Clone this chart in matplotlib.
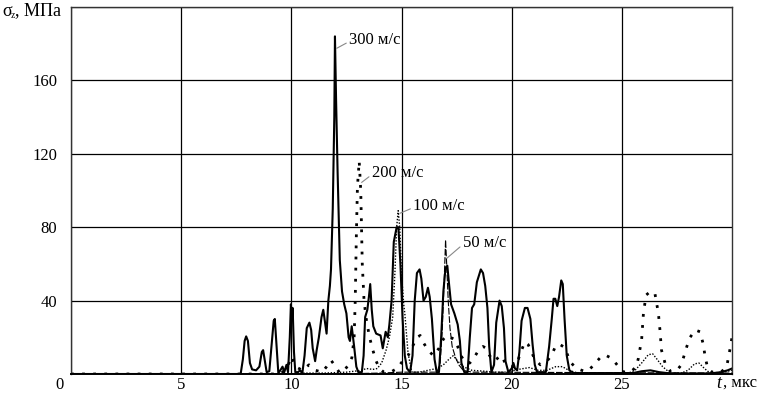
import matplotlib
matplotlib.use("Agg")
import matplotlib.pyplot as plt
from matplotlib.transforms import ScaledTranslation

# ---- data ----
t_300 = [0, 7.7, 7.8, 7.88, 7.95, 8.03, 8.12, 8.22, 8.4, 8.55, 8.66, 8.72, 8.8, 8.88, 9.0, 9.1, 9.2, 9.25,
         9.33, 9.41, 9.5, 9.6, 9.68, 9.78, 9.85, 9.93, 9.98, 10.03, 10.06, 10.12, 10.18, 10.3, 10.4, 10.5,
         10.6, 10.7, 10.82, 10.9, 10.97, 11.03, 11.08, 11.15, 11.25, 11.37, 11.45, 11.53, 11.6, 11.68, 11.75,
         11.8, 11.88, 11.95, 11.98, 12.03, 12.1, 12.2, 12.3, 12.4, 12.5, 12.6, 12.66, 12.74, 12.8, 12.85,
         12.95, 13.04, 13.2, 13.28, 13.35, 13.45, 13.52, 13.58, 13.65, 13.72, 13.85, 14.05, 14.15, 14.28,
         14.38, 14.45, 14.55, 14.65, 14.78, 14.86, 14.95, 15.05, 15.15, 15.25, 15.39, 15.5, 15.6, 15.7,
         15.82, 15.9, 16.0, 16.1, 16.2, 16.28, 16.38, 16.5, 16.6, 16.7, 16.8, 16.9, 17.0, 17.08, 17.15,
         17.25, 17.4, 17.55, 17.65, 17.72, 17.85, 18.0, 18.1, 18.2, 18.3, 18.42, 18.6, 18.7, 18.8, 18.9,
         18.98, 19.08, 19.2, 19.3, 19.45, 19.55, 19.65, 19.72, 19.85, 20.0, 20.08, 20.15, 20.25, 20.35,
         20.45, 20.6, 20.72, 20.85, 20.95, 21.05, 21.15, 21.55, 21.7, 21.82, 21.9, 21.98, 22.07, 22.15,
         22.25, 22.32, 22.4, 22.5, 22.62, 22.8, 25.5, 25.9, 26.3, 26.7, 27.2, 29.0, 29.5, 29.8, 30]
v_300 = [0, 0, 8, 18, 20.5, 18, 6, 2.5, 2, 4, 12, 13, 7, 1, 1.5, 15, 29, 30,
         15, 0.5, 2, 4, 1, 5, 1, 20, 38, 30, 36, 12, 1, 1, 2, 0.5,
         10, 25, 28, 24, 14, 10, 7, 13, 20, 31, 35, 28, 22, 40, 48,
         57, 90, 140, 184, 150, 110, 62, 45, 38, 33, 20, 18, 26, 20, 15,
         4, 1, 1, 10, 31, 35, 42, 49, 35, 26, 22, 21, 14, 23,
         20, 27, 40, 72, 80, 80, 60, 30, 10, 3, 1, 10, 40, 55,
         57, 52, 40, 42, 47, 42, 30, 8, 1, 1, 20, 45, 58, 59, 50,
         38, 33, 27, 18, 6, 1, 1, 20, 36, 38, 50, 57, 55, 48, 36,
         15, 1, 5, 28, 40, 37, 25, 7, 1, 3, 6, 3, 2, 12,
         29, 36, 36, 30, 16, 5, 1, 1, 15, 30, 41, 41, 37, 42,
         51, 49, 30, 10, 2, 0.5, 0.5, 1.5, 2, 1, 0.3, 0.3, 1, 2, 3]

t_200 = [0, 9.5, 9.8, 10.0, 10.2, 10.5, 10.8, 11.1, 11.4, 11.6, 11.8, 11.95, 12.2, 12.4, 12.6, 12.75, 12.85,
         12.9, 12.95, 13.0, 13.08, 13.15, 13.22, 13.3, 13.4, 13.55, 13.7, 13.85, 14.0, 14.2, 14.5, 14.8,
         15.05, 15.3, 15.5, 15.7, 15.85, 16.0, 16.2, 16.45, 16.7, 16.9, 17.05, 17.2, 17.4, 17.55, 17.7,
         17.9, 18.1, 18.3, 18.5, 18.7, 18.85, 19.0, 19.2, 19.4, 19.55, 19.7, 19.9, 20.1, 20.3, 20.45,
         20.6, 20.75, 20.9, 21.05, 21.3, 21.6, 21.8, 21.95, 22.05, 22.2, 22.4, 22.55, 22.7, 22.95, 23.3,
         23.5, 23.8, 24.1, 24.3, 24.55, 24.85, 25.1, 25.4, 25.65, 25.75, 25.9, 25.98, 26.1, 26.3, 26.5,
         26.66, 26.73, 26.8, 26.96, 27.2, 27.5, 27.7, 27.95, 28.1, 28.33, 28.55, 28.7, 28.78, 28.9, 29.1,
         29.5, 29.76, 29.9, 30]
v_200 = [0, 0, 3, 9.5, 4, 2, 5, 2, 1, 4, 7.5, 5, 0.5, 2, 5, 9, 20,
         40, 75, 102, 116, 100, 60, 40, 30, 20, 13, 7, 3, 1, 1, 3,
         7, 10, 15, 20, 21, 17, 13, 10, 14, 19, 21, 20, 19, 15, 10,
         6, 6, 9, 13, 15, 14, 10, 7, 9, 10, 6, 4, 4, 8, 13,
         17.5, 16, 12, 8, 5, 7, 10, 14, 16, 16, 14.5, 10, 6, 3, 1.5,
         2, 6, 10, 10, 8.5, 4, 1, 1, 4, 8.5, 19, 33, 43, 45, 44,
         33, 24, 13, 6, 1.5, 2, 5, 15, 20, 24, 23, 16, 9.4, 3, 1,
         1, 4, 13, 20]

t_100 = [0, 10, 10.5, 11.5, 12.5, 13.2, 13.4, 13.7, 13.9, 14.1, 14.3, 14.45, 14.6, 14.7, 14.78, 14.85,
         14.92, 15.0, 15.1, 15.15, 15.3, 15.47, 15.8, 16.2, 16.6, 16.9, 17.15, 17.35, 17.55, 17.8, 18.2,
         18.8, 19.2, 19.8, 20.3, 20.8, 21.2, 21.6, 22.0, 22.3, 22.6, 23.0, 25.3, 25.6, 25.9, 26.2, 26.4,
         26.6, 26.85, 27.2, 27.7, 28.0, 28.3, 28.5, 28.75, 29.0, 29.6, 30]
v_100 = [0, 0, 0.5, 0.5, 1, 2, 3, 2.5, 3, 6, 13, 20, 31, 55, 80, 89,
         80, 55, 38, 33, 11, 1, 1, 2, 3, 5, 8, 10, 7, 4, 2,
         1.5, 1, 1, 2.5, 3.5, 2, 2, 4, 4, 2, 0.5, 0.5, 2, 6, 10.5, 11,
         8, 4, 0.5, 0.5, 2, 5.5, 6, 3, 0.5, 1, 2]

t_50 = [0, 12, 14, 15, 16, 16.6, 16.75, 16.85, 16.95, 17.0, 17.05, 17.12, 17.2, 17.3, 17.45, 17.6,
        17.8, 18.2, 30]
v_50 = [0, 0, 0.5, 1, 1, 1, 5, 24, 55, 73, 60, 40, 25, 15, 9, 5,
        2, 1, 0.5]

x_ticks = [0, 5, 10, 15, 20, 25]
x_tick_labels = ["0", "5", "10", "15", "20", "25"]
y_ticks = [0, 40, 80, 120, 160, 200]
y_tick_labels = ["", "40", "80", "120", "160", ""]

# ---- figure ----
serif = ["Liberation Serif", "DejaVu Serif"]
plt.rcParams["font.family"] = serif
FS = 12

fig = plt.figure(figsize=(7.66, 3.94), dpi=100)
ax = fig.add_axes([71 / 766, 20 / 394, 661 / 766, 367 / 394])
ax.set_xlim(0, 30)
ax.set_ylim(0, 200)

ax.set_xticks(x_ticks)
ax.set_xticklabels(x_tick_labels, fontsize=FS)
ax.set_yticks(y_ticks)
ax.set_yticklabels(y_tick_labels, fontsize=FS)
ax.tick_params(length=0)
ax.tick_params(axis="x", pad=2)
ax.tick_params(axis="y", pad=10)
ax.grid(True, color="black", linewidth=0.9)
ax.set_axisbelow(True)
for s in ax.spines.values():
    s.set_linewidth(1.0)
    s.set_color("#333333")
ax.spines["bottom"].set_color("black")
ax.spines["bottom"].set_linewidth(1.4)

# shift "0" label to the left of the axis
lbl0 = ax.get_xticklabels()[0]
lbl0.set_transform(lbl0.get_transform() + ScaledTranslation(-11 / 100, 0, fig.dpi_scale_trans))

ax.plot(t_50, v_50, color="black", linewidth=0.8, linestyle=(0, (6, 1.5)))
ax.plot(t_100, v_100, color="black", linewidth=1.0, linestyle=(0, (1, 1.2)))
ax.plot(t_200, v_200, color="black", linewidth=2.0, linestyle=(0, (1, 3)))
ax.plot(t_300, v_300, color="black", linewidth=1.5)

# annotations
ann = [("300 м/с", (12.06, 177.5), (12.62, 182)),
       ("200 м/с", (13.19, 104.4), (13.65, 109.5)),
       ("100 м/с", (14.93, 87.6), (15.53, 91.5)),
       ("50 м/с", (17.05, 63), (17.78, 71.4))]
for txt, xy, xyt in ann:
    ax.annotate(txt, xy=xy, xytext=xyt, fontsize=FS, ha="left", va="center",
                arrowprops=dict(arrowstyle="-", color="#888888", linewidth=0.8,
                                shrinkA=0, shrinkB=0,
                                relpos=(0, 0.4)))

# axis labels
fig.text(2 / 766, 1 - 11 / 394, "σ", fontsize=FS + 1, va="center", ha="left")
fig.text(11 / 766, 1 - 15 / 394, "z", fontsize=7, va="center", ha="left")
fig.text(15 / 766, 1 - 11 / 394, ", МПа", fontsize=FS + 1, va="center", ha="left")

fig.text(716 / 766, 1 - 383 / 394, "t", fontsize=FS + 1, style="italic", va="center", ha="left")
fig.text(723 / 766, 1 - 383 / 394, ", мкс", fontsize=FS, va="center", ha="left")

fig.savefig("out.png", dpi=100)
